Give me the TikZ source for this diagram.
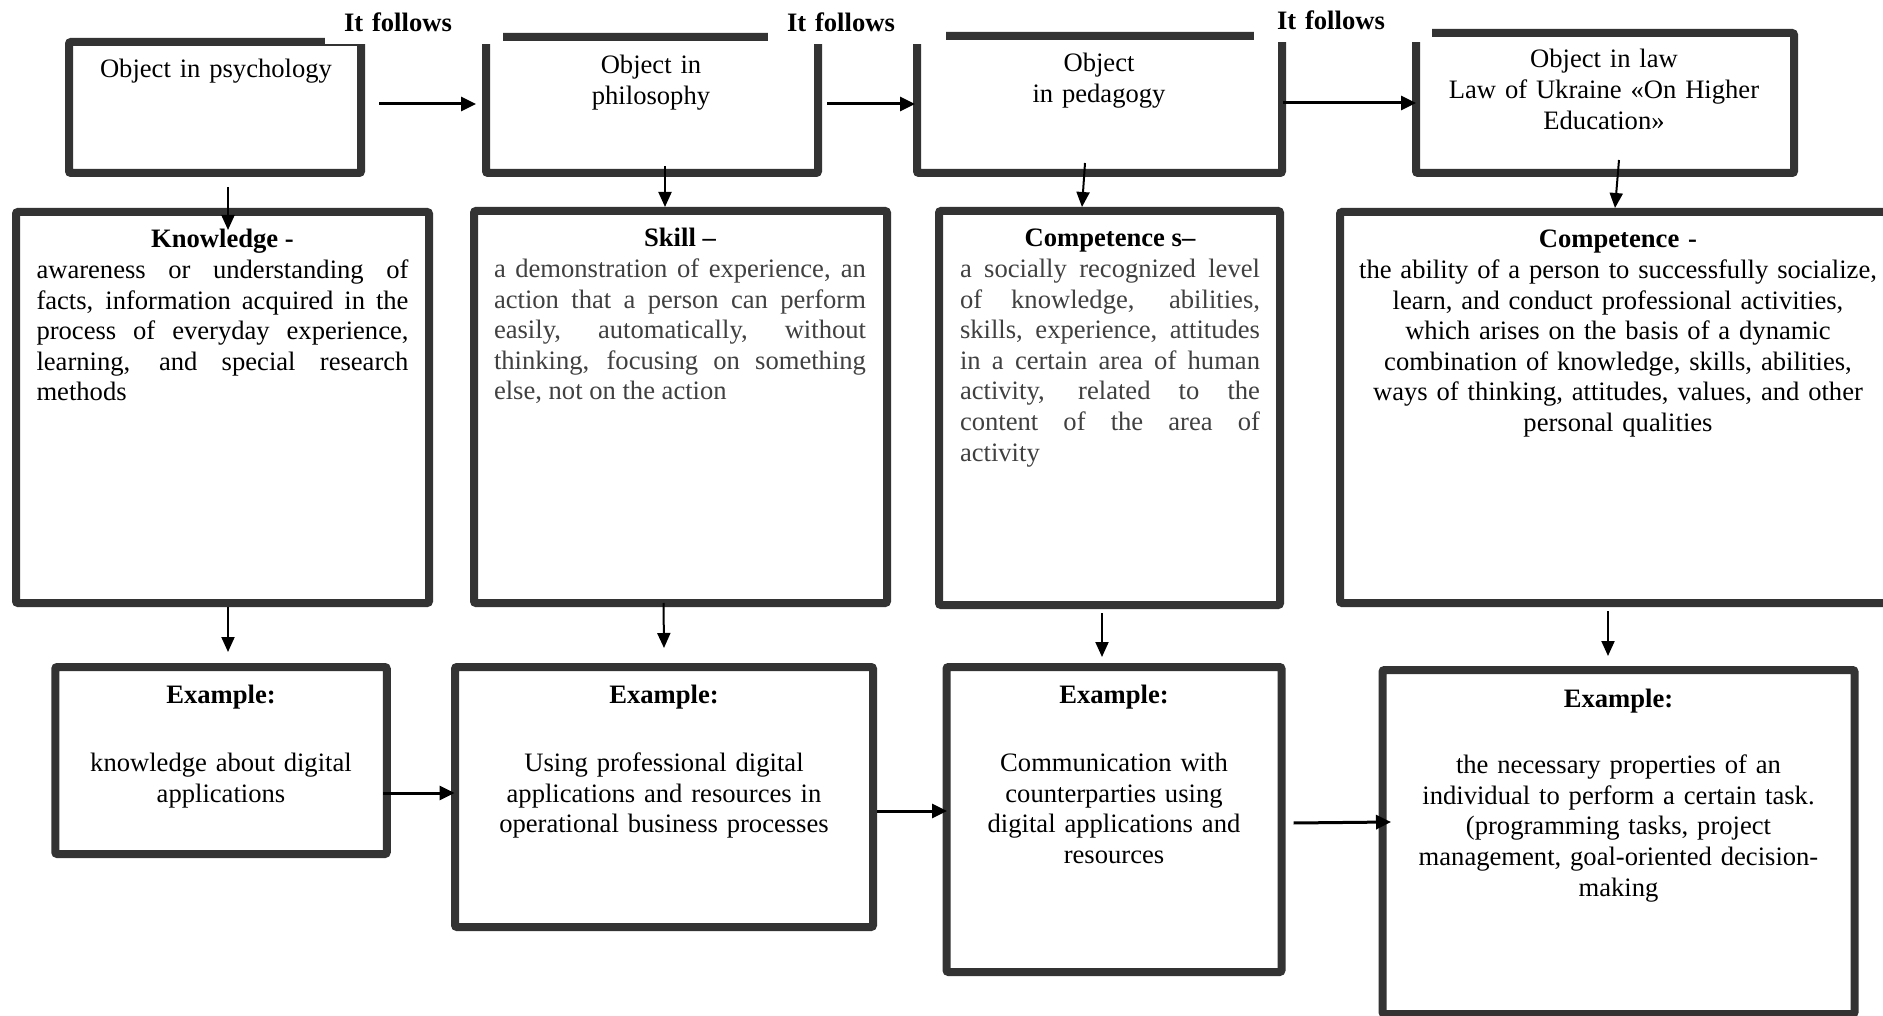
\documentclass[tikz,border=0pt]{standalone}
\usepackage{fontspec}
\setmainfont{Liberation Serif}
\usetikzlibrary{arrows.meta}

\definecolor{framegray}{HTML}{333333}
\definecolor{bodygray}{HTML}{404040}
\hyphenpenalty=10000
\tolerance=10000

\begin{document}
\begin{tikzpicture}[
	x=1pt, y=-1pt,
	box/.style={
		draw=framegray, line width=8pt, rectangle, rounded corners=2pt,
		outer sep=0pt, inner sep=0pt
	},
	txt/.style={
		anchor=base, inner sep=0pt, align=center,
		font=\fontsize{26.6pt}{30.6pt}\selectfont
	},
	defn/.style={txt, align=justify},
	lbl/.style={
		fill=white, inner sep=0pt, text width=178pt, minimum height=44pt,
		align=left, font=\fontsize{26.6pt}{30.6pt}\selectfont\bfseries
	},
	hedge/.style={-{Triangle[length=15pt, width=14pt]}, line width=3pt},
	vedge/.style={-{Triangle[length=15pt, width=13pt]}, line width=2pt},
	]
	
	\path[use as bounding box, fill=white] (0,0) rectangle (1883,1016);
	
	% objects of study
	\node[box, minimum width=292pt, minimum height=131pt] (psy)  at (215,107.5)    {};
	\node[box, minimum width=332pt, minimum height=136pt] (phil) at (652,105)      {};
	\node[box, minimum width=365pt, minimum height=137pt] (ped)  at (1099.5,104.5) {};
	\node[box, minimum width=378pt, minimum height=140pt] (law)  at (1605,103)     {};
	% definitions
	\node[box, minimum width=413pt, minimum height=391pt] (know)  at (222.5,407.5) {};
	\node[box, minimum width=413pt, minimum height=392pt] (skill) at (680.5,407)   {};
	\node[box, minimum width=341pt, minimum height=394pt] (comps) at (1109.5,408)  {};
	\node[box, minimum width=552pt, minimum height=391pt] (comp)  at (1616,407.5)  {};
	% examples
	\node[box, minimum width=331.5pt, minimum height=187pt] (exknow)  at (221,760.5)  {};
	\node[box, minimum width=418pt,   minimum height=260pt] (exskill) at (664,797)    {};
	\node[box, minimum width=335pt,   minimum height=305pt] (excomps) at (1114,819.5) {};
	\node[box, minimum width=472pt,   minimum height=344pt] (excomp)  at (1618.5,842) {};
	
	\node[lbl] (follow1) at (414,22)  {\hspace*{19pt}It follows};
	\node[lbl] (follow2) at (857,22)  {\hspace*{19pt}It follows};
	\node[lbl] (follow3) at (1343,20) {\hspace*{23pt}It follows};
	
	\node[txt, text width=290pt] (psytext)  at (216,78)  {Object in psychology};
	\node[txt, text width=320pt] (philtext) at (651,74)  {Object in\\ philosophy};
	\node[txt, text width=350pt] (pedtext)  at (1099,72) {Object\\ in pedagogy};
	\node[txt, text width=370pt] (lawtext)  at (1604,68) {Object in law\\ Law of Ukraine «On Higher\\ Education»};
	
	\node[defn, text width=372pt] (knowtext) at (222.5,248) {{\centering\bfseries Knowledge -\par}%
		awareness or understanding of\linebreak facts, information acquired in the\linebreak
		process of everyday experience,\linebreak learning, and special research\linebreak methods};
	\node[defn, text width=372pt, text=bodygray] (skilltext) at (680,247) {{\centering\bfseries\color{black} Skill –\par}%
		a demonstration of experience, an\linebreak action that a person can perform\linebreak
		easily, automatically, without\linebreak thinking, focusing on something\linebreak else, not on the action};
	\node[defn, text width=300pt, text=bodygray] (compstext) at (1110,247) {{\centering\bfseries\color{black} Competence s–\par}%
		a socially recognized level\linebreak of knowledge, abilities,\linebreak skills, experience, attitudes\linebreak
		in a certain area of human\linebreak activity, related to the\linebreak content of the area of\linebreak activity};
	\node[txt, text width=540pt] (comptext) at (1618,248) {\textbf{Competence -}\\
		the ability of a person to successfully socialize,\\ learn, and conduct professional activities,\\
		which arises on the basis of a dynamic\\ combination of knowledge, skills, abilities,\\
		ways of thinking, attitudes, values, and other\\ personal qualities};
	
	\node[txt, text width=320pt] (exknowtext)  at (221,703)    {\textbf{Example:}\\[37.8pt] knowledge about digital\\ applications};
	\node[txt, text width=400pt] (exskilltext) at (664,703)    {\textbf{Example:}\\[37.8pt] Using professional digital\\ applications and resources in\\ operational business processes};
	\node[txt, text width=320pt] (excompstext) at (1114,703)   {\textbf{Example:}\\[37.8pt] Communication with\\ counterparties using\\ digital applications and\\ resources};
	\node[txt, text width=460pt] (excomptext)  at (1618.5,707) {\textbf{Example:}\\[36pt] the necessary properties of an\\ individual to perform a certain task.\\ (programming tasks, project\\ management, goal-oriented decision-\\ making};
	
	% it follows
	\draw[hedge] ([shift={(18,-3.5)}]psy.east) -- ([shift={(-10,-1)}]phil.west);
	\draw[hedge] ([shift={(9,-1)}]phil.east)   -- ([shift={(-2,-0.5)}]ped.west);
	\draw[hedge] ([shift={(1,-1.5)}]ped.east)  -- (law.west);
	
	% object -> definition -> example
	\draw[vedge] ([shift={(13,14)}]psy.south)     -- ([shift={(5.5,18)}]know.north);
	\draw[vedge] ([shift={(13,-7)}]phil.south)    -- ([shift={(-15.5,-4)}]skill.north);
	\draw[vedge] ([shift={(-14.5,-10)}]ped.south) -- ([shift={(-27.5,-4)}]comps.north);
	\draw[vedge] ([shift={(14,-13)}]law.south)    -- ([shift={(-1,-4)}]comp.north);
	\draw[vedge] ([shift={(5.5,4)}]know.south)    -- ([shift={(7,-15)}]exknow.north);
	\draw[vedge] ([shift={(-17,0)}]skill.south)   -- ([shift={(0,-19)}]exskill.north);
	\draw[vedge] ([shift={(-7.5,8)}]comps.south)  -- ([shift={(-12,-10)}]excomps.north);
	\draw[vedge] ([shift={(-8,8)}]comp.south)     -- ([shift={(-10.5,-14)}]excomp.north);
	
	% examples in a row
	\draw[hedge] ([shift={(-3.75,32.5)}]exknow.east) -- ([shift={(-0.5,-4)}]exskill.west);
	\draw[hedge] ([shift={(4,14)}]exskill.east)      -- ([shift={(0.5,-8.5)}]excomps.west);
	\draw[hedge] ([shift={(12,3.5)}]excomps.east)    -- ([shift={(8.5,-20)}]excomp.west);
	
\end{tikzpicture}
\end{document}
